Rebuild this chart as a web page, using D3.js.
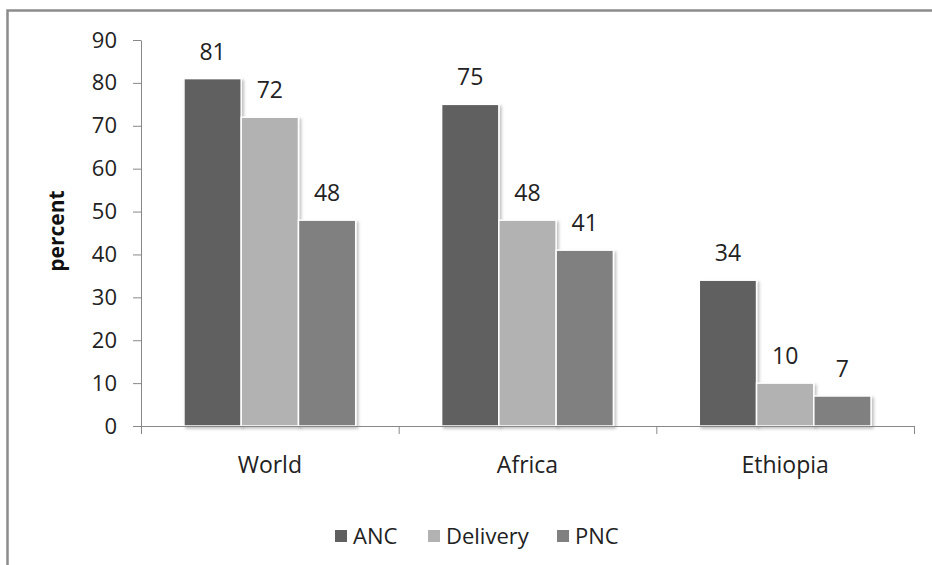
<!DOCTYPE html>
<html>
<head>
<meta charset="utf-8">
<script src="https://cdn.jsdelivr.net/npm/d3@7"></script>
<style>
  body { margin: 0; background: #fff; }
  svg { display: block; font-family: "Open Sans", sans-serif; }
</style>
</head>
<body>
<div class="chart"></div>
<script>
const categories = [`World`, `Africa`, `Ethiopia`];
const seriesNames = [`ANC`, `Delivery`, `PNC`];
const ancValues = [81, 75, 34];
const deliveryValues = [72, 48, 10];
const pncValues = [48, 41, 7];
const yTicks = [0, 10, 20, 30, 40, 50, 60, 70, 80, 90];

const colors = {ANC: `#606060`, Delivery: `#b2b2b2`, PNC: `#808080`};
const series = [ancValues, deliveryValues, pncValues];

const width = 932, height = 565;
const plot = {left: 141, right: 914, top: 40, bottom: 426};

const svg = d3.select(`.chart`).append(`svg`)
  .attr(`width`, width)
  .attr(`height`, height);

// shadow under bars
const defs = svg.append(`defs`);
const f = defs.append(`filter`).attr(`id`, `shadow`)
  .attr(`x`, `-10%`).attr(`y`, `-10%`).attr(`width`, `130%`).attr(`height`, `130%`);
f.append(`feDropShadow`).attr(`dx`, 2).attr(`dy`, 2).attr(`stdDeviation`, 1.5)
  .attr(`flood-color`, `#000`).attr(`flood-opacity`, 0.25);

// frame
svg.append(`rect`)
  .attr(`x`, 7.5).attr(`y`, 10.5)
  .attr(`width`, 1000).attr(`height`, 1000)
  .attr(`fill`, `none`).attr(`stroke`, `#8c8c8c`).attr(`stroke-width`, 2.5);

const x0 = d3.scaleBand().domain(categories).range([plot.left, plot.right]);
const x1 = d3.scaleBand().domain(seriesNames).range([0, x0.bandwidth()]).paddingOuter(0.75);
const y = d3.scaleLinear().domain([0, 90]).range([plot.bottom, plot.top]);

// y axis
const yAxis = svg.append(`g`)
  .attr(`transform`, `translate(${plot.left},0)`)
  .call(d3.axisLeft(y).tickValues(yTicks).tickSize(8).tickPadding(16).tickSizeOuter(0));
yAxis.select(`.domain`).attr(`stroke`, `#888`);
yAxis.selectAll(`.tick line`).attr(`stroke`, `#888`);
yAxis.selectAll(`.tick text`)
  .attr(`font-size`, 22).attr(`fill`, `#222`).attr(`font-family`, `"Open Sans", sans-serif`);

// bars
const groups = svg.selectAll(`.group`)
  .data(categories)
  .enter().append(`g`)
  .attr(`class`, `group`)
  .attr(`transform`, d => `translate(${x0(d)},0)`);

groups.selectAll(`rect`)
  .data((d, i) => seriesNames.map((s, j) => ({s: s, v: series[j][i]})))
  .enter().append(`rect`)
  .attr(`x`, d => x1(d.s))
  .attr(`y`, d => y(d.v))
  .attr(`width`, x1.bandwidth())
  .attr(`height`, d => plot.bottom - y(d.v))
  .attr(`fill`, d => colors[d.s])
  .attr(`stroke`, `#fff`)
  .attr(`stroke-width`, 1.5)
  .attr(`filter`, `url(#shadow)`);

groups.selectAll(`.val`)
  .data((d, i) => seriesNames.map((s, j) => ({s: s, v: series[j][i]})))
  .enter().append(`text`)
  .attr(`class`, `val`)
  .attr(`x`, d => x1(d.s) + x1.bandwidth() / 2)
  .attr(`y`, d => y(d.v) - 19)
  .attr(`text-anchor`, `middle`)
  .attr(`font-size`, 23)
  .attr(`fill`, `#222`)
  .text(d => d.v);

// x axis
const xAxis = svg.append(`g`);
xAxis.append(`line`)
  .attr(`x1`, plot.left).attr(`x2`, plot.right)
  .attr(`y1`, plot.bottom + 0.5).attr(`y2`, plot.bottom + 0.5)
  .attr(`stroke`, `#888`);
const bounds = categories.map(c => x0(c)).concat([plot.right]);
xAxis.selectAll(`.xt`)
  .data(bounds)
  .enter().append(`line`)
  .attr(`x1`, d => d + 0.5).attr(`x2`, d => d + 0.5)
  .attr(`y1`, plot.bottom).attr(`y2`, plot.bottom + 8)
  .attr(`stroke`, `#888`);
xAxis.selectAll(`.cat`)
  .data(categories)
  .enter().append(`text`)
  .attr(`x`, d => x0(d) + x0.bandwidth() / 2)
  .attr(`y`, plot.bottom + 47)
  .attr(`text-anchor`, `middle`)
  .attr(`font-size`, 23)
  .attr(`fill`, `#222`)
  .text(d => d);

// y title
svg.append(`text`)
  .attr(`transform`, `translate(64,231) rotate(-90)`)
  .attr(`text-anchor`, `middle`)
  .attr(`font-size`, 21)
  .attr(`font-weight`, `bold`)
  .attr(`fill`, `#111`)
  .text(`percent`);

// legend
const legendPos = [335, 428, 557];
const legend = svg.selectAll(`.leg`)
  .data(seriesNames)
  .enter().append(`g`)
  .attr(`transform`, (d, i) => `translate(${legendPos[i]},530)`);
legend.append(`rect`)
  .attr(`width`, 12).attr(`height`, 12)
  .attr(`fill`, d => colors[d]);
legend.append(`text`)
  .attr(`x`, 18).attr(`y`, 14)
  .attr(`font-size`, 22)
  .attr(`fill`, `#222`)
  .text(d => d);
</script>
</body>
</html>
